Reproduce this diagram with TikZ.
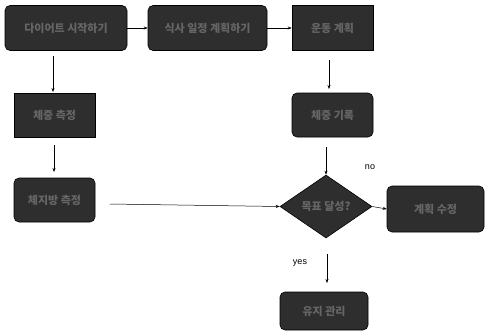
\documentclass[tikz,border=0pt]{standalone}
\usepackage{fontspec}
\setmainfont{Liberation Sans}
\newfontfamily\kr{Noto Sans CJK KR}
\usetikzlibrary{shapes.geometric,arrows.meta}
\definecolor{boxfill}{gray}{0.18}
\definecolor{boxtext}{gray}{0.40}
\tikzset{
  base/.style={fill=boxfill, draw=black, line width=0.6pt, inner sep=0pt, font=\kr\bfseries\fontsize{11}{13}\selectfont, text=boxtext},
  rbox/.style={base, rounded corners=5pt},
  sbox/.style={base},
  dbox/.style={base, diamond, aspect=1.45, inner sep=0pt},
  conn/.style={draw=black, line width=0.5pt, -{Stealth[length=4pt,width=3pt]}},
  lbl/.style={font=\fontsize{9}{11}\selectfont, text=black}
}
\begin{document}
\begin{tikzpicture}[x=1pt,y=-1pt]
\useasboundingbox (0,0) rectangle (485,333);
% top row
\node[rbox, minimum width=122pt, minimum height=45pt] (a) at (66,28) {다이어트 시작하기};
\node[rbox, minimum width=119pt, minimum height=45pt] (b) at (207.5,28) {식사 일정 계획하기};
\node[sbox, minimum width=81pt, minimum height=45pt] (c) at (332.5,28) {운동 계획};
% left column
\node[sbox, minimum width=81pt, minimum height=44pt] (d) at (54.5,115) {체중 측정};
\node[rbox, minimum width=81pt, minimum height=44pt] (e) at (54.5,200) {체지방 측정};
% right column
\node[rbox, minimum width=81pt, minimum height=44pt] (f) at (332.5,115) {체중 기록};
\node[dbox, minimum width=92pt, minimum height=63pt] (g) at (326,206.5) {목표 달성?};
\node[rbox, minimum width=97pt, minimum height=46pt] (h) at (435.5,209) {계획 수정};
\node[rbox, minimum width=88pt, minimum height=38pt] (i) at (324,311) {유지 관리};
% free ends
\coordinate (a1) at (53,56);
\coordinate (e1) at (110,204);
\coordinate (g1) at (327,254);
\coordinate (c1) at (329,60);
% connectors
\draw[conn] (a.east) -- (b.west);
\draw[conn] (b.east) -- (c.west);
\draw[conn] (a1) -- (53,92);
\draw[conn] (54,145) -- (54,172);
\draw[conn] (c1) -- (329,89);
\draw[conn] (326,147) -- (g.north);
\draw[conn] (e1) -- (g.west);
\draw[conn] (g.east) -- (h.west);
\draw[conn] (g1) -- (327,283);
% labels
\node[lbl] (no) at (370,167) {no};
\node[lbl] (yes) at (300,263) {yes};
\end{tikzpicture}
\end{document}
